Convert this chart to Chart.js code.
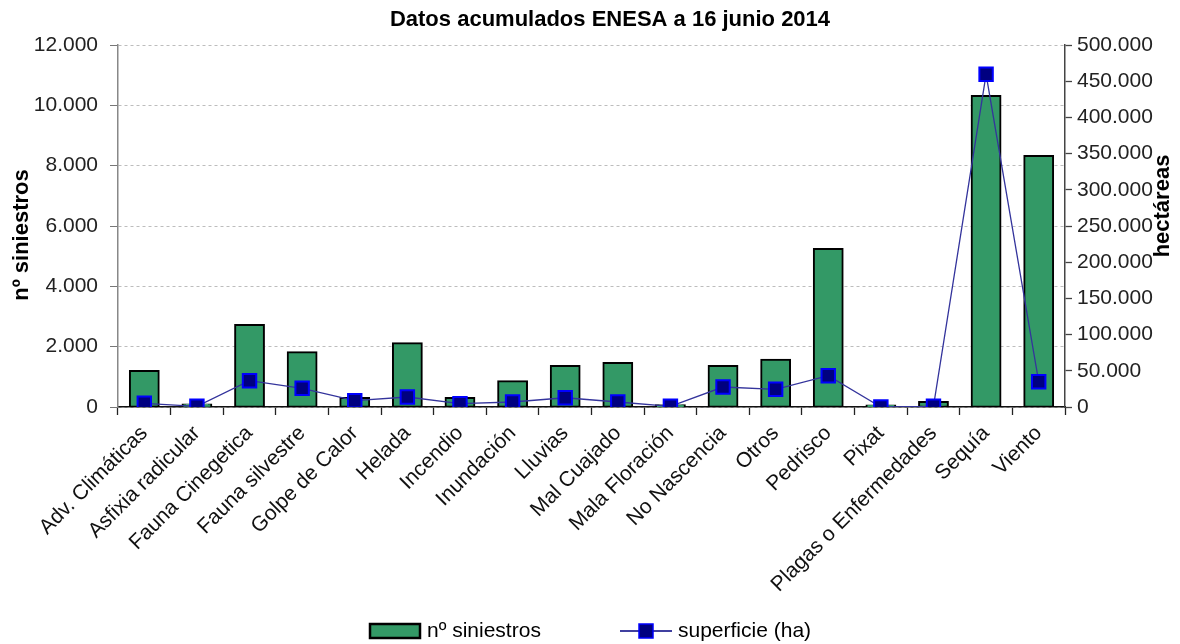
<!DOCTYPE html>
<html>
<head>
<meta charset="utf-8">
<script src="https://cdn.jsdelivr.net/npm/chart.js@4.4.1/dist/chart.umd.min.js"></script>
<style>
  html, body { margin: 0; padding: 0; background: #fff; }
</style>
</head>
<body>
<canvas id="chart" width="1180" height="644"></canvas>
<script>
// Datos acumulados ENESA a 16 junio 2014
const categories = [
  'Adv. Climáticas', 'Asfixia radicular', 'Fauna Cinegetica', 'Fauna silvestre',
  'Golpe de Calor', 'Helada', 'Incendio', 'Inundación', 'Lluvias', 'Mal Cuajado',
  'Mala Floración', 'No Nascencia', 'Otros', 'Pedrisco', 'Pixat',
  'Plagas o Enfermedades', 'Sequía', 'Viento'
];
const siniestros = [
  1190, 80, 2710, 1810, 290, 2110, 290, 850, 1350, 1450,
  50, 1350, 1560, 5230, 40, 160, 10300, 8310
];
const superficie = [
  5100, 1000, 36300, 25800, 8700, 13800, 4600, 6900, 12800, 6900,
  1000, 27600, 24400, 43200, 0, 1000, 459500, 34900
];
const leftTicks = { min: 0, max: 12000, step: 2000 };
const rightTicks = { min: 0, max: 500000, step: 50000 };

const TITLE = 'Datos acumulados ENESA a 16 junio 2014';
const FONT = "'Liberation Sans', Arial, sans-serif";

// 12000 -> "12.000"
function thousands(v) {
  return String(v).replace(/\B(?=(\d{3})+(?!\d))/g, '.');
}

// Title, axis titles (both read bottom to top) and the legend are drawn here
const decorations = {
  id: 'decorations',
  afterDraw(chart) {
    const ctx = chart.ctx;
    ctx.save();

    ctx.fillStyle = '#000';
    ctx.font = "bold 22px " + FONT;
    ctx.textAlign = 'center';
    ctx.textBaseline = 'middle';
    ctx.fillText(TITLE, 610, 20);

    ctx.save();
    ctx.translate(22, 235);
    ctx.rotate(-Math.PI / 2);
    ctx.fillText('nº siniestros', 0, 0);
    ctx.restore();

    ctx.save();
    ctx.translate(1163, 206);
    ctx.rotate(-Math.PI / 2);
    ctx.fillText('hectáreas', 0, 0);
    ctx.restore();

    // legend
    const ly = 631;
    ctx.font = "21px " + FONT;
    ctx.textAlign = 'left';
    ctx.fillStyle = '#339966';
    ctx.fillRect(370, ly - 7, 50, 14);
    ctx.lineWidth = 2.5;
    ctx.strokeStyle = '#000';
    ctx.strokeRect(370, ly - 7, 50, 14);
    ctx.fillStyle = '#000';
    ctx.fillText('nº siniestros', 427, ly);

    ctx.strokeStyle = '#000080';
    ctx.lineWidth = 1.3;
    ctx.beginPath();
    ctx.moveTo(620, ly);
    ctx.lineTo(672, ly);
    ctx.stroke();
    ctx.fillStyle = '#000080';
    ctx.fillRect(639, ly - 7, 14, 14);
    ctx.strokeStyle = '#0000ff';
    ctx.lineWidth = 1.5;
    ctx.strokeRect(639, ly - 7, 14, 14);
    ctx.fillStyle = '#000';
    ctx.fillText('superficie (ha)', 678, ly);

    ctx.restore();
  }
};

Chart.defaults.font.family = FONT;
Chart.defaults.color = '#222';

const config = {
  type: 'bar',
  data: {
    labels: categories,
    datasets: [
      {
        type: 'line',
        label: 'superficie (ha)',
        data: superficie,
        yAxisID: 'y1',
        order: 0,
        borderColor: '#34349c',
        borderWidth: 1.3,
        backgroundColor: '#000080',
        pointStyle: 'rect',
        pointRadius: 9.5,
        pointBorderWidth: 2,
        pointBorderColor: '#0000ff',
        pointBackgroundColor: '#000080',
        tension: 0
      },
      {
        label: 'nº siniestros',
        data: siniestros,
        yAxisID: 'y',
        order: 1,
        backgroundColor: '#339966',
        borderColor: '#000',
        borderWidth: 2,
        borderSkipped: false,
        inflateAmount: 1.2,
        barPercentage: 0.54,
        categoryPercentage: 1
      }
    ]
  },
  options: {
    responsive: false,
    animation: false,
    layout: {
      padding: { top: 45, right: 0, bottom: 0, left: 0 }
    },
    plugins: {
      legend: { display: false },
      title: { display: false },
      tooltip: { enabled: false }
    },
    scales: {
      x: {
        offset: true,
        afterFit: (scale) => { scale.height = 237; },
        grid: {
          display: true,
          offset: true,
          drawOnChartArea: false,
          drawTicks: true,
          tickLength: 8,
          tickColor: '#222',
          tickWidth: 1.3
        },
        border: { display: true, color: '#111', width: 1.5 },
        ticks: {
          autoSkip: false,
          minRotation: 45,
          maxRotation: 45,
          padding: 6,
          color: '#111',
          font: { size: 21 }
        }
      },
      y: {
        position: 'left',
        min: leftTicks.min,
        max: leftTicks.max,
        afterFit: (scale) => { scale.width = 118; },
        grid: {
          color: '#bdbdbd',
          lineWidth: 1,
          tickColor: '#777',
          tickLength: 8,
          tickBorderDash: []
        },
        border: { display: true, color: '#888', width: 1.5, dash: [3, 3] },
        ticks: {
          stepSize: leftTicks.step,
          padding: 12,
          color: '#222',
          font: { size: 21 },
          callback: (v) => thousands(v)
        }
      },
      y1: {
        position: 'right',
        min: rightTicks.min,
        max: rightTicks.max,
        afterFit: (scale) => { scale.width = 115; },
        grid: {
          drawOnChartArea: false,
          tickColor: '#444',
          tickLength: 7,
          tickWidth: 1.3
        },
        border: { display: true, color: '#444', width: 1.5 },
        ticks: {
          stepSize: rightTicks.step,
          padding: 5,
          color: '#222',
          font: { size: 21 },
          callback: (v) => thousands(v)
        }
      }
    }
  },
  plugins: [decorations]
};

window.enesaChart = new Chart(document.getElementById('chart'), config);
</script>
</body>
</html>
